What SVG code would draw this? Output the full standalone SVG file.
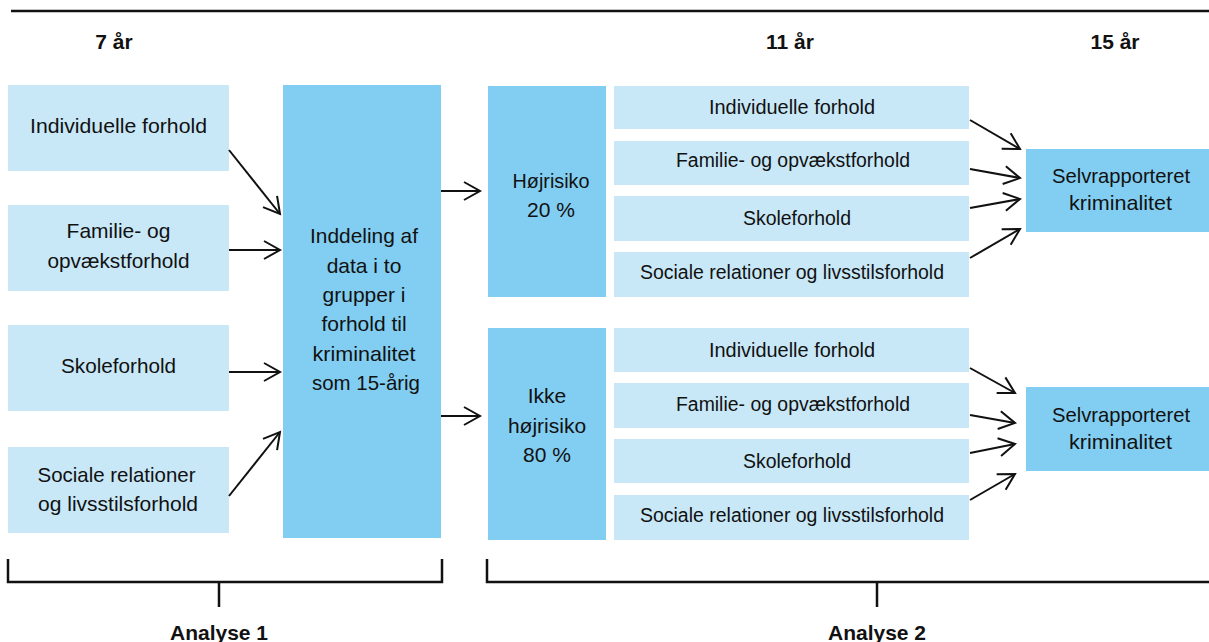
<svg xmlns="http://www.w3.org/2000/svg" width="1209" height="642" viewBox="0 0 1209 642">
<style>
.lt{fill:#c8e8f8}
.dk{fill:#82cef2}
text{font-family:"Liberation Sans",Arial,sans-serif;fill:#111;text-anchor:middle}
.t21{font-size:21px}
.t20{font-size:20px}
.hd{font-size:21px;font-weight:bold}
.ln{stroke:#111;stroke-width:2;fill:none}
.br{stroke:#111;stroke-width:2.5;fill:none}
</style>
<defs>
<marker id="ah" markerUnits="userSpaceOnUse" markerWidth="24" markerHeight="24" viewBox="-20 -12 24 24" refX="0" refY="0" orient="auto">
<path d="M-16,-9 L0,0 L-16,9" stroke="#111" stroke-width="2" fill="none"/>
</marker>
</defs>
<rect width="1209" height="642" fill="#fff"/>
<line x1="11" y1="11" x2="1209" y2="11" class="br"/>
<g id="headers">
<text x="114" y="49" class="hd">7 år</text>
<text x="790" y="49" class="hd">11 år</text>
<text x="1115" y="49" class="hd">15 år</text>
</g>
<g id="l1"><rect x="8" y="85" width="221" height="86" class="lt"/><text x="118.5" y="133" class="t21" textLength="177" lengthAdjust="spacingAndGlyphs">Individuelle forhold</text></g>
<g id="l2"><rect x="8" y="205" width="221" height="86" class="lt"/><text x="118.5" y="238" class="t21">Familie- og</text><text x="118.5" y="268" class="t21" textLength="142" lengthAdjust="spacingAndGlyphs">opvækstforhold</text></g>
<g id="l3"><rect x="8" y="325" width="221" height="86" class="lt"/><text x="118.5" y="373" class="t21" textLength="115" lengthAdjust="spacingAndGlyphs">Skoleforhold</text></g>
<g id="l4"><rect x="8" y="447" width="221" height="86" class="lt"/><text x="116.5" y="482" class="t21" textLength="158" lengthAdjust="spacingAndGlyphs">Sociale relationer</text><text x="118" y="511" class="t21" textLength="160" lengthAdjust="spacingAndGlyphs">og livsstilsforhold</text></g>
<g id="center"><rect x="283" y="85" width="158" height="453" class="dk"/>
<text x="364" y="243" class="t21" textLength="108" lengthAdjust="spacingAndGlyphs">Inddeling af</text>
<text x="364" y="272.5" class="t21">data i to</text>
<text x="364" y="302" class="t21">grupper i</text>
<text x="364" y="331" class="t21">forhold til</text>
<text x="364" y="360.5" class="t21" textLength="103" lengthAdjust="spacingAndGlyphs">kriminalitet</text>
<text x="366" y="390" class="t21" textLength="108" lengthAdjust="spacingAndGlyphs">som 15-årig</text>
</g>
<g id="hoj"><rect x="488" y="86" width="118" height="211" class="dk"/><text x="551" y="188" class="t21" textLength="77" lengthAdjust="spacingAndGlyphs">Højrisiko</text><text x="551" y="217" class="t21">20 %</text></g>
<g id="ikke"><rect x="488" y="328" width="118" height="212" class="dk"/><text x="547" y="403" class="t21">Ikke</text><text x="547" y="433" class="t21">højrisiko</text><text x="547" y="462" class="t21">80 %</text></g>
<g id="r1"><rect x="614" y="86" width="355" height="43" class="lt"/><text x="792" y="114" class="t20" textLength="166" lengthAdjust="spacingAndGlyphs">Individuelle forhold</text></g>
<g id="r2"><rect x="614" y="141" width="355" height="44" class="lt"/><text x="793" y="167" class="t20" textLength="234" lengthAdjust="spacingAndGlyphs">Familie- og opvækstforhold</text></g>
<g id="r3"><rect x="614" y="196" width="355" height="45" class="lt"/><text x="797" y="225" class="t20" textLength="108" lengthAdjust="spacingAndGlyphs">Skoleforhold</text></g>
<g id="r4"><rect x="614" y="252" width="355" height="45" class="lt"/><text x="792" y="279" class="t20" textLength="304" lengthAdjust="spacingAndGlyphs">Sociale relationer og livsstilsforhold</text></g>
<g id="r5"><rect x="614" y="328" width="355" height="44" class="lt"/><text x="792" y="357" class="t20" textLength="166" lengthAdjust="spacingAndGlyphs">Individuelle forhold</text></g>
<g id="r6"><rect x="614" y="383" width="355" height="45" class="lt"/><text x="793" y="411" class="t20" textLength="234" lengthAdjust="spacingAndGlyphs">Familie- og opvækstforhold</text></g>
<g id="r7"><rect x="614" y="439" width="355" height="44" class="lt"/><text x="797" y="468" class="t20" textLength="108" lengthAdjust="spacingAndGlyphs">Skoleforhold</text></g>
<g id="r8"><rect x="614" y="495" width="355" height="45" class="lt"/><text x="792" y="522" class="t20" textLength="304" lengthAdjust="spacingAndGlyphs">Sociale relationer og livsstilsforhold</text></g>
<g id="s1"><rect x="1026" y="149" width="183" height="83" class="dk"/><text x="1121" y="183" class="t21" textLength="138" lengthAdjust="spacingAndGlyphs">Selvrapporteret</text><text x="1120.5" y="210" class="t21" textLength="103" lengthAdjust="spacingAndGlyphs">kriminalitet</text></g>
<g id="s2"><rect x="1026" y="387" width="183" height="84" class="dk"/><text x="1121" y="422" class="t21" textLength="138" lengthAdjust="spacingAndGlyphs">Selvrapporteret</text><text x="1120.5" y="449" class="t21" textLength="103" lengthAdjust="spacingAndGlyphs">kriminalitet</text></g>
<g id="connectors" class="ln">
<line x1="229" y1="150" x2="280" y2="214" marker-end="url(#ah)"/>
<line x1="229" y1="250" x2="280" y2="250" marker-end="url(#ah)"/>
<line x1="229" y1="372" x2="280" y2="372" marker-end="url(#ah)"/>
<line x1="229" y1="496" x2="280" y2="432" marker-end="url(#ah)"/>
<line x1="441" y1="191" x2="480" y2="191" marker-end="url(#ah)"/>
<line x1="441" y1="416" x2="480" y2="416" marker-end="url(#ah)"/>
<line x1="970" y1="120" x2="1020" y2="149" marker-end="url(#ah)"/>
<line x1="970" y1="169" x2="1020" y2="178" marker-end="url(#ah)"/>
<line x1="970" y1="208" x2="1020" y2="199" marker-end="url(#ah)"/>
<line x1="970" y1="258" x2="1020" y2="229" marker-end="url(#ah)"/>
<line x1="970" y1="368" x2="1015" y2="393" marker-end="url(#ah)"/>
<line x1="970" y1="415" x2="1015" y2="423" marker-end="url(#ah)"/>
<line x1="970" y1="453" x2="1015" y2="444" marker-end="url(#ah)"/>
<line x1="970" y1="500" x2="1015" y2="474" marker-end="url(#ah)"/>
</g>
<g id="brackets" class="br">
<path d="M8,559 V582 H442 V559 M219,582 V607"/>
<path d="M487,559 V582 H1209 M877,582 V607"/>
</g>
<g id="analyses">
<text x="219" y="640" class="hd">Analyse 1</text>
<text x="877" y="640" class="hd">Analyse 2</text>
</g>
</svg>
